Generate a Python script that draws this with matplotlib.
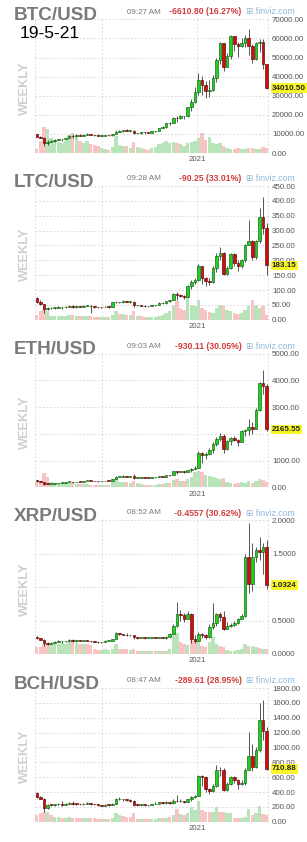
import matplotlib
matplotlib.use('Agg')
import matplotlib.pyplot as plt
import matplotlib.dates as mdates
import numpy as np
import pandas as pd

plt.rcParams['font.family'] = ['Liberation Sans', 'DejaVu Sans']

# ---------------- data ----------------
week_start = '2020-02-24'
n_weeks = 65
weeks = pd.date_range(week_start, periods=n_weeks, freq='7D')

btc_open0 = 9700
btc_close = [8550, 8040, 5390, 5830, 6250, 6870, 7080, 7150, 7700, 8900,
             8750, 9680, 8900, 9450, 9750, 9470, 9300, 9000, 9130, 9250,
             9200, 9930, 11050, 11680, 11900, 11650, 11700, 10250, 10330, 10930,
             10750, 10680, 11370, 11500, 13030, 13800, 15480, 15950, 18400, 18200,
             19150, 19150, 23850, 26500, 32200, 38300, 35800, 32300, 33100, 39300,
             48600, 57500, 45200, 51000, 61200, 57300, 55900, 57600, 60000, 56200,
             49000, 57800, 58200, 46400, 34010.5]
btc_high = [9960, 9150, 8150, 6900, 6950, 7200, 7470, 7300, 7750, 9460,
            9950, 9900, 9850, 9740, 10380, 9980, 9600, 9790, 9330, 9440,
            9330, 10130, 12100, 11900, 12100, 12450, 11800, 12080, 10600, 11170,
            10950, 10950, 11500, 11700, 13350, 14080, 15950, 16500, 18800, 19400,
            19900, 19400, 24200, 28300, 34800, 41950, 40100, 37850, 38500, 40900,
            49700, 58300, 57500, 52600, 61700, 61200, 58400, 60000, 61800, 64800,
            57000, 58000, 59600, 59500, 46600]
btc_low = [8400, 7700, 3850, 4450, 5700, 5870, 6780, 6470, 6800, 7600,
           8100, 8200, 8800, 8650, 9300, 9200, 9050, 8830, 8950, 9050,
           9080, 9150, 9900, 11000, 11150, 11400, 11150, 9900, 9850, 10200,
           10150, 10400, 10530, 11200, 11300, 12900, 13200, 14800, 15800, 16300,
           18000, 17600, 19000, 22000, 26000, 30500, 30400, 28900, 29200, 32300,
           37400, 46600, 43000, 45000, 49200, 53300, 50500, 55400, 55600, 51500,
           47000, 48800, 53000, 43800, 33500]
btc_vol = [12, 35, 78, 72, 45, 38, 32, 30, 35, 55,
           60, 50, 35, 30, 35, 28, 25, 22, 15, 12,
           10, 18, 50, 25, 22, 20, 15, 32, 18, 14,
           12, 10, 15, 18, 28, 30, 35, 30, 32, 30,
           28, 22, 30, 32, 35, 45, 60, 40, 48, 30,
           28, 30, 20, 15, 12, 12, 15, 12, 12, 15,
           15, 12, 12, 18, 16]

ltc_open0 = 74
ltc_close = [60, 52, 36, 38, 39, 41, 42, 42, 44, 47,
             42, 45, 43, 47, 47, 45, 43, 42, 42, 44,
             43, 58, 59, 58, 62, 60, 60, 48, 48, 47,
             45, 46, 48, 48, 55, 56, 62, 66, 86, 84,
             80, 76, 112, 128, 135, 180, 140, 130, 128, 175,
             215, 225, 155, 175, 222, 190, 180, 200, 250, 265,
             210, 265, 345, 310, 183.15]
ltc_high = [76, 67, 53, 43, 42, 43, 45, 44, 45, 50,
            49, 47, 46, 48, 51, 48, 46, 44, 43, 45,
            45, 60, 62, 61, 66, 64, 63, 62, 50, 51,
            48, 47, 50, 50, 58, 59, 64, 68, 89, 92,
            88, 82, 118, 135, 142, 186, 182, 145, 140, 180,
            225, 245, 228, 180, 225, 225, 200, 205, 255, 335,
            270, 270, 375, 412, 325]
ltc_low = [57, 50, 24, 31, 35, 37, 39, 37, 40, 43,
           38, 39, 42, 42, 45, 22, 41, 40, 41, 42,
           41, 42, 55, 55, 57, 58, 57, 44, 45, 46,
           43, 44, 45, 47, 48, 53, 54, 59, 65, 68,
           76, 70, 75, 105, 120, 130, 120, 115, 118, 125,
           160, 200, 150, 150, 170, 180, 165, 175, 195, 250,
           200, 205, 260, 290, 150]
ltc_vol = [15, 25, 32, 25, 12, 10, 10, 10, 12, 15,
           14, 12, 10, 10, 12, 10, 8, 8, 8, 8,
           8, 15, 25, 18, 18, 15, 15, 25, 12, 10,
           8, 8, 8, 8, 12, 15, 20, 25, 45, 55,
           35, 30, 78, 45, 40, 60, 35, 30, 22, 20,
           35, 45, 40, 28, 25, 20, 18, 20, 30, 40,
           60, 45, 35, 40, 15]

eth_open0 = 265
eth_close = [218, 200, 124, 123, 125, 144, 158, 172, 197, 208,
             188, 207, 200, 231, 244, 235, 229, 221, 227, 240,
             236, 310, 387, 392, 433, 392, 428, 353, 365, 384,
             355, 346, 370, 377, 409, 396, 455, 448, 607, 575,
             601, 590, 657, 685, 730, 1300, 1200, 1250, 1380, 1610,
             1800, 1935, 1416, 1724, 1854, 1788, 1690, 2090, 2140, 2240,
             2200, 2900, 3900, 3800, 2165.55]
eth_high = [290, 250, 205, 138, 145, 150, 175, 187, 200, 225,
            215, 210, 215, 238, 252, 248, 240, 236, 233, 250,
            243, 320, 415, 400, 446, 440, 435, 488, 385, 392,
            392, 380, 375, 385, 416, 415, 460, 470, 620, 620,
            615, 598, 664, 740, 780, 1350, 1320, 1320, 1470, 1680,
            1870, 2040, 2000, 1760, 1900, 1920, 1800, 2150, 2200, 2550,
            2440, 2950, 3950, 4380, 3880]
eth_low = [210, 195, 90, 110, 122, 125, 140, 150, 165, 190,
           175, 180, 195, 198, 225, 223, 220, 215, 220, 228,
           229, 235, 305, 375, 385, 380, 370, 310, 330, 360,
           330, 335, 335, 365, 370, 370, 380, 420, 445, 480,
           560, 530, 560, 580, 680, 710, 920, 1050, 1220, 1300,
           1560, 1750, 1300, 1380, 1600, 1740, 1560, 1680, 1930, 1950,
           2000, 2180, 2850, 3500, 2100]
eth_vol = [15, 20, 42, 30, 15, 12, 12, 12, 14, 14,
           12, 10, 10, 10, 10, 8, 8, 8, 8, 8,
           8, 15, 25, 15, 15, 15, 12, 18, 12, 10,
           8, 8, 8, 8, 10, 10, 12, 12, 22, 25,
           20, 18, 25, 30, 45, 50, 45, 38, 35, 30,
           28, 25, 28, 15, 12, 10, 12, 15, 12, 18,
           14, 20, 25, 22, 15]

xrp_open0 = 0.26
xrp_close = [0.235, 0.215, 0.16, 0.15, 0.17, 0.18, 0.19, 0.19, 0.19, 0.215,
             0.20, 0.205, 0.20, 0.205, 0.20, 0.19, 0.185, 0.175, 0.175, 0.195,
             0.195, 0.22, 0.31, 0.30, 0.29, 0.28, 0.28, 0.25, 0.245, 0.245,
             0.24, 0.245, 0.255, 0.245, 0.25, 0.24, 0.26, 0.30, 0.42, 0.60,
             0.59, 0.53, 0.60, 0.22, 0.20, 0.30, 0.28, 0.25, 0.40, 0.47,
             0.60, 0.56, 0.38, 0.42, 0.43, 0.46, 0.52, 0.57, 1.45, 1.05,
             1.45, 1.55, 1.53, 1.60, 1.0324]
xrp_high = [0.27, 0.245, 0.22, 0.18, 0.18, 0.19, 0.21, 0.195, 0.20, 0.23,
            0.225, 0.21, 0.21, 0.21, 0.215, 0.20, 0.19, 0.19, 0.18, 0.21,
            0.20, 0.23, 0.33, 0.32, 0.30, 0.31, 0.29, 0.29, 0.25, 0.255,
            0.245, 0.25, 0.26, 0.26, 0.255, 0.25, 0.27, 0.31, 0.45, 0.78,
            0.66, 0.62, 0.65, 0.61, 0.28, 0.33, 0.31, 0.30, 0.45, 0.76,
            0.62, 0.63, 0.65, 0.48, 0.46, 0.49, 0.54, 0.60, 1.50, 1.96,
            1.66, 1.60, 1.75, 1.66, 1.70]
xrp_low = [0.22, 0.21, 0.115, 0.13, 0.15, 0.165, 0.18, 0.17, 0.175, 0.19,
           0.18, 0.185, 0.195, 0.19, 0.195, 0.185, 0.18, 0.17, 0.17, 0.175,
           0.19, 0.19, 0.22, 0.28, 0.28, 0.27, 0.27, 0.23, 0.23, 0.24,
           0.23, 0.235, 0.245, 0.24, 0.24, 0.235, 0.23, 0.25, 0.29, 0.40,
           0.50, 0.48, 0.52, 0.17, 0.17, 0.20, 0.24, 0.22, 0.24, 0.38,
           0.42, 0.49, 0.36, 0.37, 0.40, 0.42, 0.45, 0.52, 0.56, 0.92,
           0.95, 1.38, 1.40, 1.20, 0.98]
xrp_vol = [20, 22, 30, 30, 30, 30, 30, 32, 30, 35,
           35, 32, 30, 30, 30, 28, 15, 12, 12, 15,
           12, 15, 30, 15, 15, 14, 12, 15, 10, 10,
           8, 8, 10, 8, 8, 8, 10, 15, 55, 62,
           35, 30, 28, 45, 40, 35, 25, 22, 35, 50,
           30, 25, 20, 12, 10, 10, 12, 14, 30, 25,
           25, 20, 18, 16, 15]

bch_open0 = 380
bch_close = [330, 310, 180, 230, 225, 235, 235, 230, 240, 255,
             245, 240, 235, 240, 245, 240, 235, 225, 215, 230,
             225, 240, 300, 310, 300, 295, 280, 230, 225, 230,
             225, 220, 235, 245, 260, 255, 260, 250, 285, 275,
             280, 270, 300, 330, 340, 620, 600, 440, 410, 480,
             700, 690, 430, 510, 600, 560, 510, 520, 700, 880,
             740, 960, 1370, 1220, 710.88]
bch_high = [395, 345, 320, 245, 240, 245, 250, 275, 250, 265,
            275, 255, 245, 250, 260, 250, 245, 240, 230, 240,
            235, 250, 320, 330, 310, 310, 300, 290, 235, 240,
            235, 230, 240, 260, 270, 265, 275, 270, 300, 360,
            300, 285, 310, 350, 360, 630, 625, 610, 460, 510,
            760, 740, 720, 530, 610, 620, 570, 560, 720, 1210,
            1050, 1010, 1600, 1640, 1280]
bch_low = [320, 300, 135, 170, 205, 215, 220, 215, 220, 235,
           225, 220, 225, 230, 235, 230, 225, 215, 205, 210,
           215, 220, 235, 290, 285, 280, 265, 215, 210, 215,
           215, 210, 220, 235, 245, 240, 245, 235, 245, 260,
           265, 255, 265, 285, 320, 340, 480, 400, 370, 400,
           470, 620, 420, 420, 490, 520, 440, 490, 500, 690,
           680, 720, 940, 1100, 690]
bch_vol = [20, 25, 30, 28, 20, 15, 15, 12, 12, 15,
           12, 12, 10, 10, 12, 10, 10, 8, 8, 8,
           8, 12, 25, 20, 18, 15, 15, 25, 8, 8,
           8, 8, 8, 8, 10, 10, 12, 15, 20, 38,
           22, 20, 25, 45, 35, 62, 35, 30, 28, 30,
           45, 30, 28, 25, 25, 12, 12, 12, 15, 38,
           20, 25, 48, 22, 20]

tickers = ['BTC/USD', 'LTC/USD', 'ETH/USD', 'XRP/USD', 'BCH/USD']
times = ['09:27 AM', '09:28 AM', '09:03 AM', '08:52 AM', '08:47 AM']
changes = ['-6610.80 (16.27%)', '-90.25 (33.01%)', '-930.11 (30.05%)',
           '-0.4557 (30.62%)', '-289.61 (28.95%)']
y_max = [70000, 450, 5000, 2.0, 1800]
y_step = [10000, 50, 1000, 0.5, 200]
y_decimals = [2, 2, 2, 4, 2]
date_note = '19-5-21'
vol_axis_top = 400

series = [
    (btc_open0, btc_close, btc_high, btc_low, btc_vol),
    (ltc_open0, ltc_close, ltc_high, ltc_low, ltc_vol),
    (eth_open0, eth_close, eth_high, eth_low, eth_vol),
    (xrp_open0, xrp_close, xrp_high, xrp_low, xrp_vol),
    (bch_open0, bch_close, bch_high, bch_low, bch_vol),
]

# ---------------- layout ----------------
W, H = 307, 842
fig = plt.figure(figsize=(W / 100, H / 100), dpi=100)
fig.patch.set_facecolor('white')

def fx(px):
    return px / W

def fy(py):
    return 1 - py / H

plot_left, plot_right = 35, 268.5
plot_tops = [19, 185.7, 353.3, 520, 687.7]
plot_h = 134

x = mdates.date2num(weeks)
x_lo = x[0] - 3.5
x_hi = x[-1] + 3.5
grid_dates = mdates.date2num(pd.to_datetime(['2020-07-01', '2021-01-01']))

GRID = '#d6d6d6'
dash = (0, (2.2, 2.2))

for i, (o0, close, high, low, vol) in enumerate(series):
    top = plot_tops[i]
    ax = fig.add_axes([fx(plot_left), fy(top + plot_h), fx(plot_right - plot_left), plot_h / H])
    axv = ax.twinx()
    ax.set_zorder(axv.get_zorder() + 1)
    ax.patch.set_visible(False)

    c = np.array(close, dtype=float)
    o = np.concatenate([[o0], c[:-1]])
    hi = np.maximum(np.array(high, dtype=float), np.maximum(o, c))
    lo = np.minimum(np.array(low, dtype=float), np.minimum(o, c))
    up = c >= o
    ymx = y_max[i]

    # volume
    vcol = np.where(up, '#b9e4b9', '#f8c3c3')
    axv.bar(x, vol, width=6.6, color=vcol, edgecolor='none', zorder=1)
    axv.set_ylim(0, vol_axis_top)
    axv.set_yticks([])
    for s in axv.spines.values():
        s.set_visible(False)

    # candles
    ax.vlines(x, lo, hi, color='#3a3a3a', lw=0.6, zorder=3)
    body_b = np.minimum(o, c)
    body_h = np.maximum(np.abs(c - o), ymx * 0.005)
    ax.bar(x, body_h, bottom=body_b, width=5.0,
           color=np.where(up, '#22d022', '#cc1010'),
           edgecolor=np.where(up, '#0d5e0d', '#5a0000'), linewidth=0.45, zorder=4)

    ax.set_xlim(x_lo, x_hi)
    ax.set_ylim(0, ymx * 1.003)
    axv.set_xlim(x_lo, x_hi)

    last = c[-1]
    dec = y_decimals[i]
    ticks = np.arange(0, ymx + y_step[i] / 2, y_step[i])
    ax.set_yticks(ticks)
    px_per_unit = plot_h / ymx
    # a tick label that the last-price box covers in the reference is left blank
    labels = ['' if abs(t - last) * px_per_unit < 4.7 else f'{t:.{dec}f}' for t in ticks]
    ax.set_yticklabels(labels)
    ax.yaxis.tick_right()
    ax.tick_params(axis='y', length=0, pad=2.6, labelsize=5.7, labelcolor='#555555')
    ax.set_xticks(grid_dates)
    ax.set_xticklabels(['', '2021'])
    ax.tick_params(axis='x', length=0, pad=2.4, labelsize=5.6, labelcolor='#555555')
    ax.grid(True, color=GRID, linestyle=dash, lw=0.6, zorder=0)
    for s in ax.spines.values():
        s.set_visible(False)
    for xe in (x_lo, x_hi):
        ax.axvline(xe, color=GRID, linestyle=dash, lw=0.6, zorder=0)

    # last price highlight
    ax.annotate(f'{last:.{dec}f}', xy=(1, last), xycoords=('axes fraction', 'data'),
                xytext=(2.4, 0), textcoords='offset points', ha='left', va='center',
                fontsize=5.8, fontweight='bold', color='#222222', annotation_clip=False,
                zorder=10,
                bbox=dict(boxstyle='square,pad=0.15', fc='#f7f72a', ec='none'))

    # header texts
    fig.text(fx(14), fy(top - 3.5), tickers[i], fontsize=13.6, fontweight='bold',
             color='#7a7a7a', ha='left', va='center')
    fig.text(fx(127), fy(top - 7), times[i], fontsize=5.8, color='#777777',
             ha='left', va='center')
    fig.text(fx(241.5), fy(top - 7), changes[i], fontsize=6.2, fontweight='bold',
             color='#d23c3c', ha='right', va='center')
    fig.text(fx(246), fy(top - 7), '\u229e finviz.com', fontsize=6.3,
             color='#8fb8dc', ha='left', va='center')
    fig.text(fx(25), fy(top + 69), 'WEEKLY', fontsize=9.2, fontweight='bold',
             color='#cfcfcf', rotation=90, ha='center', va='center')

fig.text(fx(20), fy(34), date_note, fontsize=12.5, color='black', ha='left', va='center')

fig.savefig('out.png', dpi=100, facecolor='white')
